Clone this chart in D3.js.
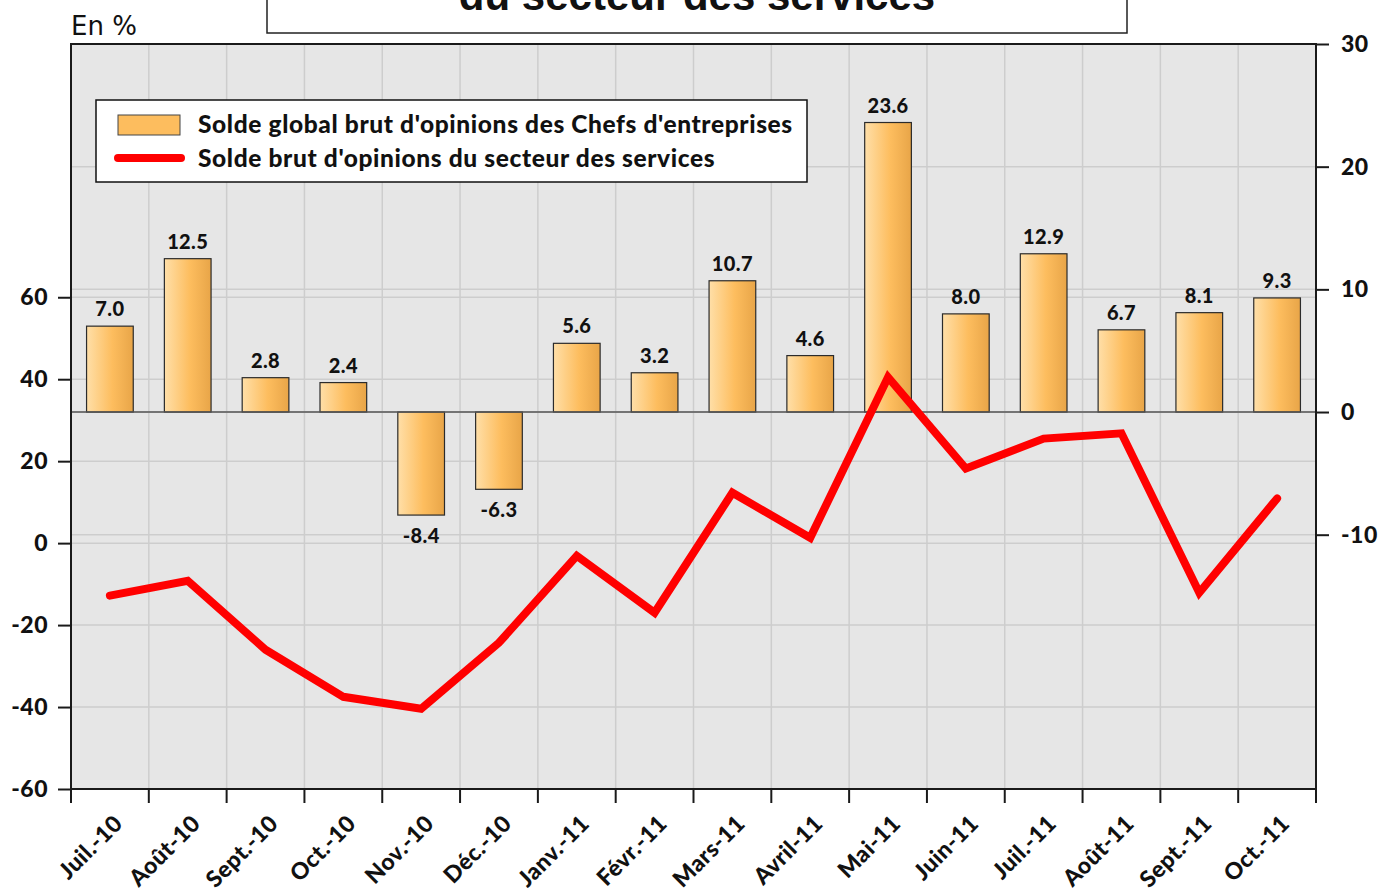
<!DOCTYPE html>
<html>
<head>
<meta charset="utf-8">
<script src="https://cdn.jsdelivr.net/npm/d3@7"></script>
<style>
  body { margin: 0; background: #fff; }
  svg { display: block; }
</style>
</head>
<body>
<div id="chart"></div>
<script>
const categories = ["Juil.-10", "Août-10", "Sept.-10", "Oct.-10", "Nov.-10", "Déc.-10",
  "Janv.-11", "Févr.-11", "Mars-11", "Avril-11", "Mai-11", "Juin-11",
  "Juil.-11", "Août-11", "Sept.-11", "Oct.-11"];
// barres : axe de droite
const chefsValues = [7.0, 12.5, 2.8, 2.4, -8.4, -6.3, 5.6, 3.2, 10.7, 4.6, 23.6, 8.0, 12.9, 6.7, 8.1, 9.3];
// courbe : axe de gauche
const servicesValues = [-12.8, -9.2, -26.0, -37.5, -40.4, -24.3, -3.1, -17.0, 12.3, 1.3, 40.5, 18.2, 25.5, 26.8, -12.1, 10.9];
const leftTicks = [-60, -40, -20, 0, 20, 40, 60];
const rightTicks = [-10, 0, 10, 20, 30];
const leftDomain = [-60, 121.8];
const rightDomain = [-30.73, 30];

const W = 1380, H = 892;
const plot = { left: 71, right: 1316, top: 44, bottom: 789 };
const labelFont = "Lato, 'Open Sans', sans-serif";

const svg = d3.select("#chart").append("svg")
  .attr("width", W)
  .attr("height", H);

const x = d3.scaleBand()
  .domain(categories)
  .range([plot.left, plot.right])
  .paddingInner(0.4)
  .paddingOuter(0.2);
const step = x.step();

const yL = d3.scaleLinear().domain(leftDomain).range([plot.bottom, plot.top]);
const yR = d3.scaleLinear().domain(rightDomain).range([plot.bottom, plot.top]);

// dégradé des barres
const grad = svg.append("defs").append("linearGradient")
  .attr("id", "barGrad")
  .attr("x1", "0%").attr("x2", "100%")
  .attr("y1", "0%").attr("y2", "0%");
grad.append("stop").attr("offset", "0%").attr("stop-color", "#ffdfa8");
grad.append("stop").attr("offset", "55%").attr("stop-color", "#fdbd5e");
grad.append("stop").attr("offset", "100%").attr("stop-color", "#e8a548");

// fond du graphique
svg.append("rect")
  .attr("x", plot.left).attr("y", plot.top)
  .attr("width", plot.right - plot.left)
  .attr("height", plot.bottom - plot.top)
  .attr("fill", "#e6e6e6");

// quadrillage
const grid = svg.append("g").attr("stroke", "#cdcdcd").attr("stroke-width", 1.5);
leftTicks.forEach(t => {
  grid.append("line")
    .attr("x1", plot.left).attr("x2", plot.right)
    .attr("y1", yL(t)).attr("y2", yL(t));
});
rightTicks.forEach(t => {
  grid.append("line")
    .attr("x1", plot.left).attr("x2", plot.right)
    .attr("y1", yR(t)).attr("y2", yR(t));
});
categories.forEach((c, i) => {
  if (i === 0) return;
  const xx = x(c) - step * 0.2;
  grid.append("line")
    .attr("x1", xx).attr("x2", xx)
    .attr("y1", plot.top).attr("y2", plot.bottom);
});

// barres
svg.append("g").selectAll("rect")
  .data(chefsValues)
  .join("rect")
  .attr("x", (d, i) => x(categories[i]))
  .attr("y", d => yR(Math.max(0, d)))
  .attr("width", x.bandwidth())
  .attr("height", d => Math.abs(yR(d) - yR(0)))
  .attr("fill", "url(#barGrad)")
  .attr("stroke", "#2b2b2b")
  .attr("stroke-width", 1.2);

// ligne du zéro (axe de droite)
svg.append("line")
  .attr("x1", plot.left).attr("x2", plot.right)
  .attr("y1", yR(0)).attr("y2", yR(0))
  .attr("stroke", "#555")
  .attr("stroke-width", 1.5);

// étiquettes des barres
svg.append("g").selectAll("text")
  .data(chefsValues)
  .join("text")
  .attr("x", (d, i) => x(categories[i]) + x.bandwidth() / 2)
  .attr("y", d => d >= 0 ? yR(d) - 10 : yR(d) + 28)
  .attr("text-anchor", "middle")
  .attr("font-family", labelFont)
  .attr("font-weight", 900)
  .attr("font-size", 20)
  .attr("letter-spacing", 0.4)
  .attr("fill", "#111")
  .text(d => d.toFixed(1));

// courbe des services
const line = d3.line()
  .x((d, i) => x(categories[i]) + x.bandwidth() / 2)
  .y(d => yL(d));
svg.append("path")
  .datum(servicesValues)
  .attr("d", line)
  .attr("fill", "none")
  .attr("stroke", "#ff0000")
  .attr("stroke-width", 8)
  .attr("stroke-linejoin", "miter")
  .attr("stroke-linecap", "round");

// cadre
svg.append("rect")
  .attr("x", plot.left).attr("y", plot.top)
  .attr("width", plot.right - plot.left)
  .attr("height", plot.bottom - plot.top)
  .attr("fill", "none")
  .attr("stroke", "#1a1a1a")
  .attr("stroke-width", 2);

// axe gauche
const axisL = svg.append("g")
  .attr("transform", `translate(${plot.left},0)`)
  .call(d3.axisLeft(yL).tickValues(leftTicks).tickSize(13).tickPadding(10).tickFormat(d => String(d)));
// axe droit
const axisR = svg.append("g")
  .attr("transform", `translate(${plot.right},0)`)
  .call(d3.axisRight(yR).tickValues(rightTicks).tickSize(13).tickPadding(12).tickFormat(d => String(d)));

[axisL, axisR].forEach(a => {
  a.select(".domain").remove();
  a.selectAll(".tick line").attr("stroke", "#1a1a1a").attr("stroke-width", 2);
  a.selectAll("text")
    .attr("font-family", labelFont)
    .attr("font-weight", 900)
    .attr("font-size", 23)
    .attr("letter-spacing", 0.5)
    .attr("fill", "#111");
});

// axe du bas : graduations aux limites des catégories
const bTicks = svg.append("g").attr("stroke", "#1a1a1a").attr("stroke-width", 2);
d3.range(categories.length + 1).forEach(k => {
  const xx = plot.left + k * step;
  bTicks.append("line")
    .attr("x1", xx).attr("x2", xx)
    .attr("y1", plot.bottom).attr("y2", plot.bottom + 14);
});

// étiquettes des mois
svg.append("g").selectAll("text")
  .data(categories)
  .join("text")
  .attr("transform", d => `translate(${x(d) + x.bandwidth() / 2 + 14},${plot.bottom + 36}) rotate(-45)`)
  .attr("text-anchor", "end")
  .attr("font-family", labelFont)
  .attr("font-weight", 900)
  .attr("font-size", 23)
  .attr("letter-spacing", 0.4)
  .attr("fill", "#111")
  .text(d => d);

// unité
svg.append("text")
  .attr("x", 71).attr("y", 35)
  .attr("font-family", "'DejaVu Sans', sans-serif")
  .attr("font-size", 26)
  .attr("fill", "#111")
  .text("En %");

// titre (coupé en haut)
svg.append("rect")
  .attr("x", 267).attr("y", -20)
  .attr("width", 860).attr("height", 53)
  .attr("fill", "#fff")
  .attr("stroke", "#222")
  .attr("stroke-width", 1.5);
svg.append("text")
  .attr("x", 697).attr("y", 10)
  .attr("text-anchor", "middle")
  .attr("font-family", "'Liberation Sans', Arial, sans-serif")
  .attr("font-weight", "bold")
  .attr("font-size", 42)
  .attr("fill", "#111")
  .text("du secteur des services");

// légende
const legend = svg.append("g");
legend.append("rect")
  .attr("x", 96).attr("y", 100)
  .attr("width", 711).attr("height", 82)
  .attr("fill", "#fff")
  .attr("stroke", "#111")
  .attr("stroke-width", 1.5);
legend.append("rect")
  .attr("x", 118).attr("y", 115)
  .attr("width", 62).attr("height", 20)
  .attr("fill", "#fdbd5e")
  .attr("stroke", "#444")
  .attr("stroke-width", 1);
legend.append("line")
  .attr("x1", 118).attr("x2", 181)
  .attr("y1", 158).attr("y2", 158)
  .attr("stroke", "#ff0000")
  .attr("stroke-width", 8)
  .attr("stroke-linecap", "round");
const legendLabels = ["Solde global brut d'opinions des Chefs d'entreprises", "Solde brut d'opinions du secteur des services"];
legend.selectAll("text.lab")
  .data(legendLabels)
  .join("text")
  .attr("class", "lab")
  .attr("x", 198)
  .attr("y", (d, i) => 133 + i * 34)
  .attr("font-family", labelFont)
  .attr("font-weight", 900)
  .attr("font-size", 24.5)
  .attr("letter-spacing", 0.62)
  .attr("fill", "#111")
  .text(d => d);
</script>
</body>
</html>
